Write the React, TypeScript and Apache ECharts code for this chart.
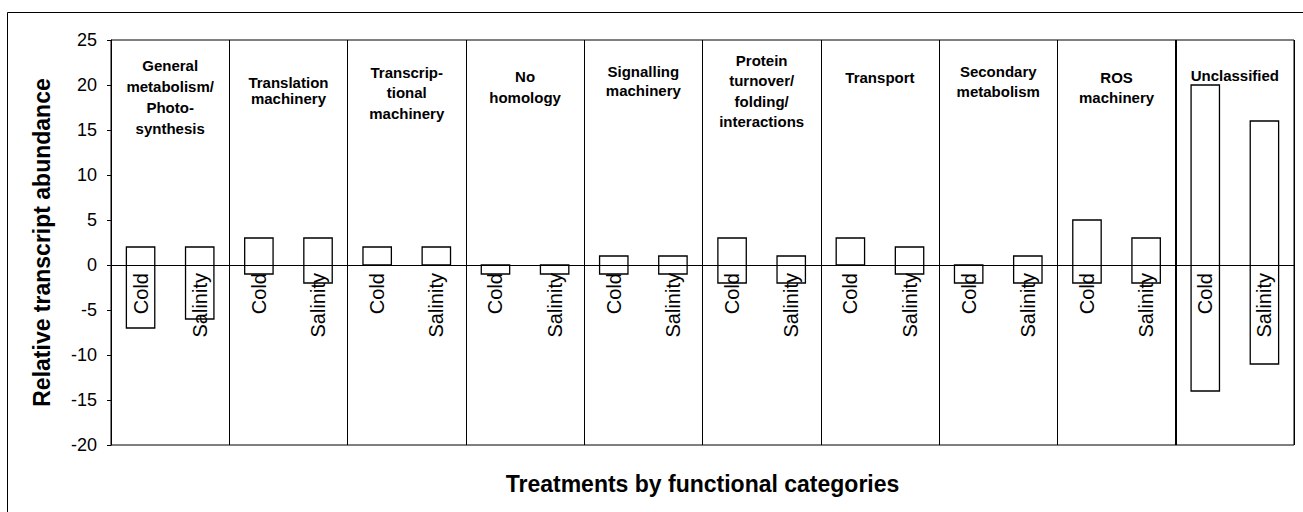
import React, { useEffect, useRef } from "react";
import * as echarts from "echarts";

const groups = [
  "General\nmetabolism/\nPhoto-\nsynthesis",
  "Translation\nmachinery",
  "Transcrip-\ntional\nmachinery",
  "No\nhomology",
  "Signalling\nmachinery",
  "Protein\nturnover/\nfolding/\ninteractions",
  "Transport",
  "Secondary\nmetabolism",
  "ROS\nmachinery",
  "Unclassified",
];
const treatments = ["Cold", "Salinity"];
// per bar: [low, high], order = group0 Cold, group0 Salinity, group1 Cold ...
const lowValues = [-7, -6, -1, -2, 0, 0, -1, -1, -1, -1, -2, -2, 0, -1, -2, -2, -2, -2, -14, -11];
const highValues = [2, 2, 3, 3, 2, 2, 0, 0, 1, 1, 3, 1, 3, 2, 0, 1, 5, 3, 20, 16];
const yTicks = { min: -20, max: 25, interval: 5 };

// title layout (offset of text top from plot top, line height)
const titleOffsets = [15, 34, 22, 26, 22, 10, 27, 21, 27, 25];
const titleLineHeights = [21, 16.5, 20.5, 21, 19, 20.5, 20, 20, 20, 20];

const categories: string[] = [];
groups.forEach(() => treatments.forEach((t) => categories.push(t)));

const FONT = "Arial, 'Liberation Sans', sans-serif";

export default function App() {
  const ref = useRef<HTMLDivElement>(null);
  useEffect(() => {
    if (!ref.current) return;
    const chart = echarts.init(ref.current, undefined, { renderer: "svg" });
    const barData = categories.map((c, i) => [i, lowValues[i], highValues[i], c]);
    chart.setOption({
      animation: false,
      backgroundColor: "#ffffff",
      textStyle: { fontFamily: FONT },
      grid: {
        left: 111,
        right: 9,
        top: 40,
        bottom: 67,
        show: true,
        borderColor: "#000",
        borderWidth: 1,
        backgroundColor: "transparent",
      },
      xAxis: [
        {
          type: "category",
          data: categories,
          z: 10,
          axisLine: { onZero: true, lineStyle: { color: "#000", width: 1 } },
          axisTick: { show: false },
          axisLabel: { show: false },
          splitLine: { show: false },
        },
        {
          type: "value",
          min: 0,
          max: 20,
          interval: 2,
          position: "bottom",
          axisLine: { show: false, onZero: false },
          axisTick: { show: false },
          axisLabel: { show: false },
          splitLine: { show: true, lineStyle: { color: "#000", width: 1 } },
          name: "Treatments by functional categories",
          nameLocation: "middle",
          nameGap: 27,
          nameTextStyle: {
            fontSize: 23,
            fontWeight: "bold",
            color: "#000",
            fontFamily: FONT,
          },
        },
      ],
      yAxis: {
        type: "value",
        min: yTicks.min,
        max: yTicks.max,
        interval: yTicks.interval,
        axisLine: { show: true, onZero: false, lineStyle: { color: "#000" } },
        axisTick: { show: true, length: 4, lineStyle: { color: "#000" } },
        axisLabel: {
          fontSize: 18,
          color: "#000",
          margin: 14,
          fontFamily: FONT,
        },
        splitLine: { show: false },
        name: "Relative transcript abundance",
        nameLocation: "middle",
        nameGap: 58,
        nameTextStyle: {
          fontSize: 23,
          fontWeight: "bold",
          color: "#000",
          fontFamily: FONT,
        },
      },
      series: [
        {
          type: "custom",
          xAxisIndex: 0,
          yAxisIndex: 0,
          z: 3,
          data: barData,
          encode: { x: 0, y: [1, 2] },
          renderItem: (params: any, api: any) => {
            const idx = api.value(0);
            const lo = api.coord([idx, api.value(1)]);
            const hi = api.coord([idx, api.value(2)]);
            const zero = api.coord([idx, 0]);
            const w = api.size([1, 0])[0] * 0.48;
            return {
              type: "group",
              children: [
                {
                  type: "rect",
                  shape: { x: lo[0] - w / 2, y: hi[1], width: w, height: lo[1] - hi[1] },
                  style: { fill: "transparent", stroke: "#000", lineWidth: 1.3 },
                },
                {
                  type: "text",
                  x: zero[0],
                  y: zero[1] + 8,
                  rotation: Math.PI / 2,
                  z2: 10,
                  style: {
                    text: categories[params.dataIndex],
                    fill: "#000",
                    fontSize: 20,
                    fontFamily: FONT,
                    align: "right",
                    verticalAlign: "middle",
                  },
                },
              ],
            };
          },
        },
        {
          type: "line",
          xAxisIndex: 1,
          yAxisIndex: 0,
          data: [],
          markLine: {
            silent: true,
            symbol: "none",
            label: { show: false },
            lineStyle: { color: "#000", width: 2, type: "solid" },
            data: [{ xAxis: 18 }],
          },
        },
      ],
    });

    const topY = chart.convertToPixel({ yAxisIndex: 0 }, yTicks.max) as number;
    const titles = groups.map((g, i) => {
      const cx = chart.convertToPixel({ xAxisIndex: 1 }, 2 * i + 1) as number;
      return {
        type: "text",
        x: cx,
        y: topY + titleOffsets[i],
        z: 20,
        style: {
          text: g,
          fill: "#000",
          fontSize: 15,
          fontWeight: "bold",
          fontFamily: FONT,
          align: "center",
          verticalAlign: "top",
          lineHeight: titleLineHeights[i],
        },
      };
    });
    chart.setOption({
      graphic: [
        {
          type: "rect",
          shape: { x: 7.5, y: 12.5, width: 1400, height: 600 },
          style: { fill: "none", stroke: "#000", lineWidth: 1 },
          silent: true,
          z: 0,
        },
        ...titles,
      ],
    });
    return () => chart.dispose();
  }, []);
  return (
    <div
      ref={ref}
      style={{ position: "absolute", left: 0, top: 0, width: 1303, height: 512 }}
    />
  );
}
